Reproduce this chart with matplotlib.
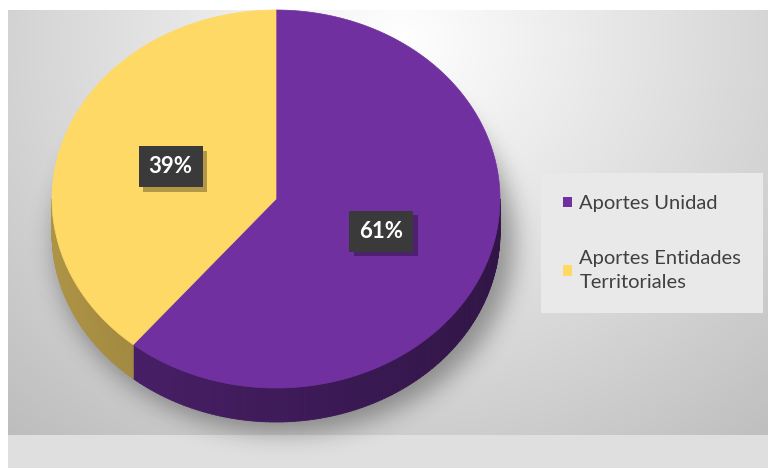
import numpy as np
import matplotlib.pyplot as plt
import matplotlib.patheffects as pe
from matplotlib.collections import PolyCollection
from matplotlib.patches import Polygon, Patch

plt.rcParams['font.family'] = ['Lato', 'DejaVu Sans']

categorias = ['Aportes Unidad', 'Aportes Entidades\nTerritoriales']
valores = [61, 39]
colores = ['#7030a0', '#ffd966']

W, H = 768, 468
fig = plt.figure(figsize=(W / 100, H / 100), dpi=100)
ax = fig.add_axes([0, 0, 1, 1])
ax.set_xlim(0, W)
ax.set_ylim(H, 0)
ax.axis('off')

# fondo: blanco fuera, gradiente gris dentro del area del grafico
x0, y0, x1, y1 = 8, 10, W, 435
yy, xx = np.mgrid[0:H, 0:W]
d = np.sqrt(((xx - 400) / 500.0) ** 2 + ((yy - 40) / 450.0) ** 2)
g = np.clip(1.0 - 0.22 * d, 0, 1)
img = np.ones((H, W, 3))
inside = (xx >= x0) & (yy >= y0) & (yy < y1)
for c in range(3):
    img[..., c] = np.where(inside, g, 1.0)
img[(yy >= y1) & (xx >= x0)] = 0.875
ax.imshow(img, extent=(0, W, H, 0), zorder=0, interpolation='bilinear')


def blur(a, s):
    k = np.arange(-3 * s, 3 * s + 1)
    k = np.exp(-k ** 2 / (2.0 * s * s))
    k /= k.sum()
    a = np.apply_along_axis(lambda r: np.convolve(r, k, mode='same'), 1, a)
    return np.apply_along_axis(lambda r: np.convolve(r, k, mode='same'), 0, a)


# geometria del pastel
cx, cy, rx, ry, prof = 276, 199, 224, 189, 34

# sombra difusa
m = (((xx - cx - 8) / (rx + 6)) ** 2 + ((yy - cy - prof - 8) / (ry + 2)) ** 2) <= 1
sh = blur(m.astype(float), 12)
shadow = np.zeros((H, W, 4))
shadow[..., 3] = sh * 0.35
ax.imshow(shadow, extent=(0, W, H, 0), zorder=1, interpolation='bilinear')


def punto(t, dy=0):
    r = np.radians(t)
    return cx + rx * np.cos(r), cy - ry * np.sin(r) + dy


# angulos en sentido horario desde las 12
frac = np.array(valores) / sum(valores)
bordes = 90 - 360 * np.concatenate([[0], np.cumsum(frac)])

# lateral (solo la parte frontal, 180..360 grados)
for i, col in enumerate(colores):
    hi, lo = bordes[i], bordes[i + 1]
    lo_n, hi_n = lo % 360, (lo % 360) + (hi - lo)
    a, b = max(lo_n, 180), min(hi_n, 360)
    if b <= a:
        continue
    ts = np.linspace(a, b, 120)
    polys, cols = [], []
    base = np.array(plt.matplotlib.colors.to_rgb(col))
    for t0, t1 in zip(ts[:-1], ts[1:]):
        p0, p1 = punto(t0), punto(t1)
        q1, q0 = punto(t1, prof), punto(t0, prof)
        polys.append([p0, p1, q1, q0])
        k = 0.56 + 0.12 * np.cos(np.radians(0.5 * (t0 + t1) - 180))
        cols.append(base * k)
    ax.add_collection(PolyCollection(polys, facecolors=cols, edgecolors=cols,
                                     linewidths=0.6, zorder=2))

# cara superior
for i, col in enumerate(colores):
    ts = np.linspace(bordes[i], bordes[i + 1], 200)
    pts = [(cx, cy)] + [punto(t) for t in ts]
    ax.add_patch(Polygon(pts, closed=True, facecolor=col, edgecolor=col,
                         linewidth=0.5, zorder=3))

# etiquetas de porcentaje con caja oscura y sombra
for i in range(len(valores)):
    mid = 0.5 * (bordes[i] + bordes[i + 1])
    lx, ly = punto(mid)
    lx, ly = cx + 0.5 * (lx - cx), cy + 0.5 * (ly - cy)
    t = ax.text(lx, ly, f'{valores[i]}%', ha='center', va='center',
                fontsize=16, fontweight='bold', color='white', zorder=5,
                bbox=dict(boxstyle='square,pad=0.45', fc='#3a3a3a', ec='none'))
    t.get_bbox_patch().set_path_effects(
        [pe.SimplePatchShadow(offset=(3, -3), shadow_rgbFace='black', alpha=0.3),
         pe.Normal()])

# leyenda
handles = [Patch(facecolor=c, edgecolor='none') for c in colores]
leg = ax.legend(handles, categorias, loc='center left',
                bbox_to_anchor=(541 / W, 1 - 243 / H), frameon=True,
                fancybox=False, framealpha=1, facecolor='#e9e9e9',
                edgecolor='none', fontsize=14.5, labelcolor='#404040',
                handlelength=0.45, handleheight=0.45, handletextpad=0.35,
                labelspacing=1.9, borderpad=1.1, borderaxespad=0)
for txt in leg.get_texts():
    txt.set_linespacing(1.45)
leg.set_zorder(6)

fig.savefig('out.png', dpi=100)
